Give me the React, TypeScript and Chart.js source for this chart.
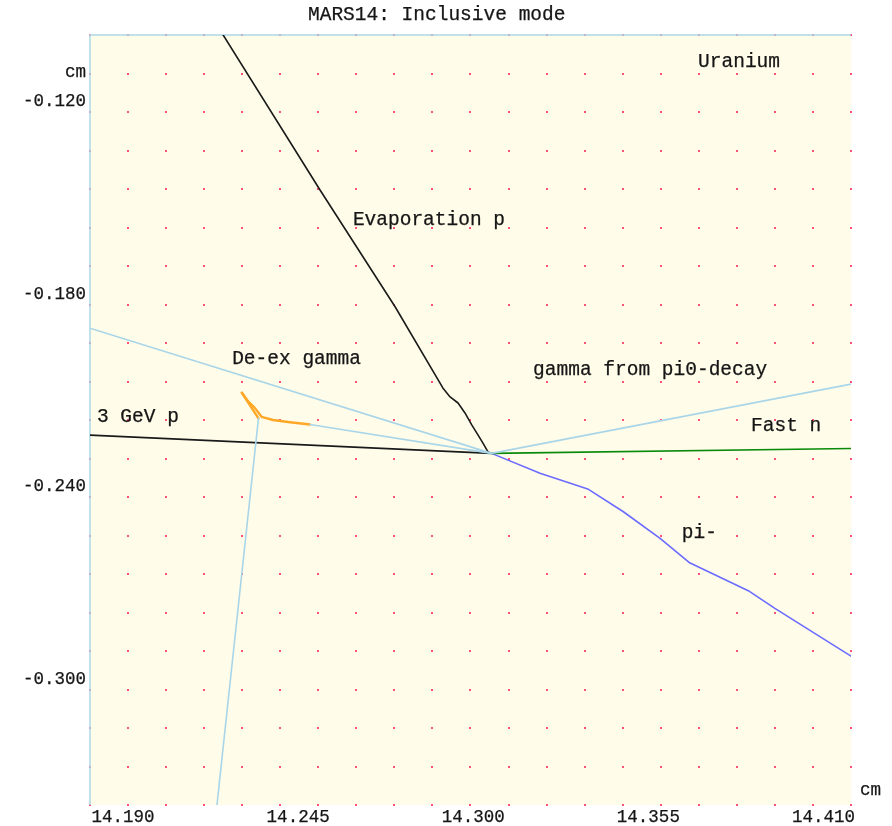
import React, { useEffect, useRef } from "react";
import { Chart, registerables } from "chart.js";

Chart.register(...registerables);

// Axis ranges (cm) and labelled ticks
const X_MIN = 14.19;
const X_MAX = 14.41;
const Y_MIN = -0.336;
const Y_MAX = -0.096;
const X_STEP = 0.011;
const Y_STEP = 0.012;
const xTickLabels = ["14.190", "14.245", "14.300", "14.355", "14.410"];
const yTickValues = [-0.12, -0.18, -0.24, -0.3];

// Track polylines (x, y in cm)
const protonBeamX = [14.19, 14.3061];
const protonBeamY = [-0.2207, -0.2264];

const fastNeutronX = [14.3061, 14.41];
const fastNeutronY = [-0.2264, -0.2249];

const pi0GammaX = [14.3061, 14.41];
const pi0GammaY = [-0.2264, -0.2048];

const deexGammaAX = [14.19, 14.3061];
const deexGammaAY = [-0.1874, -0.2264];

const deexGammaBX = [14.3061, 14.2536];
const deexGammaBY = [-0.2264, -0.2174];

const deexGammaCX = [14.2387, 14.2267];
const deexGammaCY = [-0.2155, -0.336];

const electronAX = [14.2536, 14.2478, 14.2429, 14.2396, 14.2377, 14.2358, 14.2339];
const electronAY = [-0.2174, -0.2167, -0.216, -0.215, -0.2123, -0.2103, -0.2075];

const electronBX = [14.2339, 14.2387];
const electronBY = [-0.2075, -0.2155];

const evapProtonX = [
  14.2285, 14.2565, 14.2782, 14.2912, 14.292, 14.2941, 14.2964, 14.2984,
  14.3004, 14.3022, 14.3036, 14.3051, 14.3061,
];
const evapProtonY = [
  -0.096, -0.1443, -0.1807, -0.2045, -0.206, -0.2088, -0.2107, -0.2138,
  -0.2176, -0.2207, -0.2232, -0.226, -0.2264,
];

const pionX = [14.3061, 14.3201, 14.3341, 14.3442, 14.3548, 14.3632, 14.3803, 14.388, 14.41];
const pionY = [-0.2264, -0.2326, -0.2376, -0.2446, -0.2529, -0.2604, -0.2692, -0.2747, -0.2896];

// Particle / material annotations (text, x, y in cm at the text baseline)
const annotationText = [
  "Uranium",
  "Evaporation p",
  "De-ex gamma",
  "gamma from pi0-decay",
  "3 GeV p",
  "Fast n",
  "pi-",
];
const annotationX = [14.3658, 14.266, 14.2311, 14.3181, 14.192, 14.3811, 14.3611];
const annotationY = [-0.106, -0.1552, -0.1985, -0.202, -0.2166, -0.2194, -0.2528];

const TITLE = "MARS14: Inclusive mode";
const UNIT = "cm";

const FONT_MONO = '"Liberation Mono", "Courier New", monospace';
const LIGHT_BLUE = "#a9d5e8";

const toPoints = (xs: number[], ys: number[]) => xs.map((x, i) => ({ x, y: ys[i] }));

const track = (xs: number[], ys: number[], color: string, width = 1.6) => ({
  data: toPoints(xs, ys),
  borderColor: color,
  backgroundColor: color,
  borderWidth: width,
  showLine: true,
  pointRadius: 0,
  tension: 0,
  fill: false,
  borderJoinStyle: "round",
  borderCapStyle: "round",
});

// Text drawn with a thin outline so the monospace glyphs read a little heavier
const drawText = (ctx: CanvasRenderingContext2D, t: string, x: number, y: number) => {
  ctx.strokeText(t, x, y);
  ctx.fillText(t, x, y);
};

const plotFrame = {
  id: "plotFrame",
  beforeDatasetsDraw(chart: any) {
    const { ctx, chartArea: a, scales } = chart;
    const xs = scales.x;
    const ys = scales.y;
    ctx.save();
    ctx.fillStyle = "#fffdea";
    ctx.fillRect(a.left, a.top, a.right - a.left, a.bottom - a.top);
    // dotted grid
    ctx.fillStyle = "#ff4f7a";
    const nx = Math.round((X_MAX - X_MIN) / X_STEP);
    const ny = Math.round((Y_MAX - Y_MIN) / Y_STEP);
    for (let i = 0; i <= nx; i++) {
      const px = Math.round(xs.getPixelForValue(X_MIN + i * X_STEP));
      for (let j = 0; j <= ny; j++) {
        const py = Math.round(ys.getPixelForValue(Y_MIN + j * Y_STEP));
        ctx.fillRect(px - 1, py - 1, 2, 2);
      }
    }
    // left and top frame lines
    ctx.strokeStyle = "#add8e6";
    ctx.lineWidth = 1.5;
    ctx.beginPath();
    ctx.moveTo(a.left, a.bottom);
    ctx.lineTo(a.left, a.top);
    ctx.lineTo(a.right, a.top);
    ctx.stroke();
    ctx.restore();
  },
  afterDraw(chart: any) {
    const { ctx, chartArea: a, scales } = chart;
    const xs = scales.x;
    const ys = scales.y;
    ctx.save();
    ctx.fillStyle = "#151515";
    ctx.strokeStyle = "#151515";
    ctx.lineWidth = 0.25;
    ctx.textBaseline = "alphabetic";

    // title
    ctx.font = `19.5px ${FONT_MONO}`;
    ctx.textAlign = "left";
    drawText(ctx, TITLE, 308, 20);

    // annotations
    annotationText.forEach((t, i) => {
      drawText(ctx, t, xs.getPixelForValue(annotationX[i]), ys.getPixelForValue(annotationY[i]));
    });

    // y tick labels, sitting just above their tick rows
    ctx.font = `17.5px ${FONT_MONO}`;
    ctx.textAlign = "right";
    yTickValues.forEach((v) => {
      drawText(ctx, v.toFixed(3), a.left - 4, ys.getPixelForValue(v) - 6);
    });
    drawText(ctx, UNIT, a.left - 4, 77);

    // x tick labels, spread evenly between the plot edges
    ctx.textAlign = "left";
    const start = a.left + 1.5;
    const end = a.right + 4;
    const n = xTickLabels.length - 1;
    xTickLabels.forEach((t, i) => {
      const w = ctx.measureText(t).width;
      drawText(ctx, t, start + (i * (end - start - w)) / n, a.bottom + 17);
    });
    drawText(ctx, UNIT, a.right + 9, a.bottom - 10);
    ctx.restore();
  },
};

export default function App() {
  const canvasRef = useRef<HTMLCanvasElement | null>(null);

  useEffect(() => {
    if (!canvasRef.current) return;
    const chart = new Chart(canvasRef.current, {
      type: "scatter",
      data: {
        datasets: [
          track(deexGammaAX, deexGammaAY, LIGHT_BLUE),
          track(deexGammaBX, deexGammaBY, LIGHT_BLUE),
          track(deexGammaCX, deexGammaCY, LIGHT_BLUE),
          track(pi0GammaX, pi0GammaY, LIGHT_BLUE),
          track(fastNeutronX, fastNeutronY, "#0a8a0a"),
          track(protonBeamX, protonBeamY, "#1a1a1a"),
          track(evapProtonX, evapProtonY, "#1a1a1a"),
          track(pionX, pionY, "#6b6bff"),
          track(electronAX, electronAY, "#ffa726", 2.4),
          track(electronBX, electronBY, "#ffa726", 2.4),
        ] as any,
      },
      options: {
        animation: false,
        responsive: false,
        devicePixelRatio: 1,
        layout: { padding: { left: 90, top: 35, right: 41, bottom: 21 } },
        plugins: {
          legend: { display: false },
          tooltip: { enabled: false },
          title: { display: false },
        },
        scales: {
          x: { type: "linear", min: X_MIN, max: X_MAX, display: false },
          y: { type: "linear", min: Y_MIN, max: Y_MAX, display: false },
        },
      },
      plugins: [plotFrame],
    });
    return () => chart.destroy();
  }, []);

  return (
    <div style={{ position: "absolute", left: 0, top: 0, width: 892, height: 826, background: "#fff" }}>
      <canvas ref={canvasRef} width={892} height={826} />
    </div>
  );
}
